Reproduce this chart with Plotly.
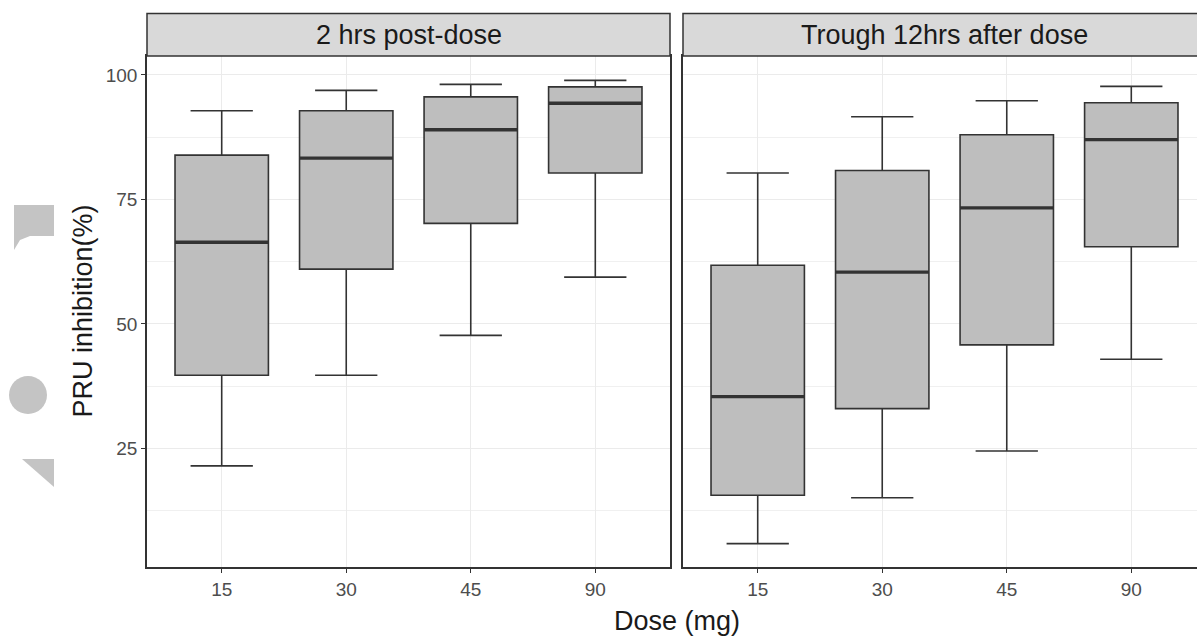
import plotly.graph_objects as go

W, H = 1197, 637

# ---- data ----
doses = ["15", "30", "45", "90"]
panels = ["2 hrs post-dose", "Trough 12hrs after dose"]

post_lower = [21.5, 39.7, 47.7, 59.4]
post_q1 = [39.7, 61.0, 70.2, 80.3]
post_median = [66.4, 83.3, 89.0, 94.3]
post_q3 = [83.9, 92.8, 95.6, 97.6]
post_upper = [92.8, 96.9, 98.1, 98.9]

trough_lower = [5.9, 15.1, 24.5, 42.9]
trough_q1 = [15.6, 33.0, 45.8, 65.5]
trough_median = [35.4, 60.4, 73.3, 87.0]
trough_q3 = [61.8, 80.8, 88.0, 94.4]
trough_upper = [80.3, 91.6, 94.8, 97.7]

y_ticks = [25, 50, 75, 100]

# ---- layout geometry (pixels) ----
def px_x(x):
    return x / W

def px_y(y):
    return 1 - y / H

L0, L1 = 147, 670
R0, R1full = 683, 1206
top, bottom = 56, 567
strip_top = 13.5
unit_px = (L1 - L0) / 4.2
right_range_end = 0.4 + (W - R0) / unit_px

BOX_FILL = "#BEBEBE"
DARK = "#333333"
GRID = "#EBEBEB"
FONT = "Liberation Sans, Arial, sans-serif"

fig = go.Figure()

series = [
    (post_lower, post_q1, post_median, post_q3, post_upper, "x", "y"),
    (trough_lower, trough_q1, trough_median, trough_q3, trough_upper, "x2", "y2"),
]
xs = list(range(1, len(doses) + 1))
for lo, q1, med, q3, up, xa, ya in series:
    fig.add_trace(go.Box(
        x=xs, q1=q1, median=med, q3=q3, lowerfence=lo, upperfence=up,
        width=0.75, whiskerwidth=0.667, boxpoints=False,
        fillcolor=BOX_FILL, line=dict(color=DARK, width=1.6),
        xaxis=xa, yaxis=ya, hoverinfo="skip", showlegend=False,
    ))
    mx, my = [], []
    for xi, m in zip(xs, med):
        mx += [xi - 0.375, xi + 0.375, None]
        my += [m, m, None]
    fig.add_trace(go.Scatter(
        x=mx, y=my, mode="lines", line=dict(color=DARK, width=3.4),
        xaxis=xa, yaxis=ya, hoverinfo="skip", showlegend=False,
    ))

tickfont = dict(family=FONT, size=19, color="#4D4D4D")
xcommon = dict(
    tickmode="array", tickvals=xs, ticktext=doses, tickfont=tickfont,
    ticks="outside", ticklen=4, tickcolor=DARK, tickwidth=1.1,
    showgrid=True, gridcolor=GRID, gridwidth=1.1, zeroline=False,
    showline=True, linecolor=DARK, linewidth=1.5, mirror=True,
    fixedrange=True,
)
ycommon = dict(
    range=[1.2, 103.8], tickmode="array", tickvals=y_ticks,
    showgrid=True, gridcolor=GRID, gridwidth=1.1, zeroline=False,
    minor=dict(tickmode="array", tickvals=[12.5, 37.5, 62.5, 87.5],
               showgrid=True, gridcolor="#F0F0F0", gridwidth=0.6, ticks=""),
    showline=True, linecolor=DARK, linewidth=1.5,
    domain=[px_y(bottom), px_y(top)], fixedrange=True,
)

fig.update_layout(
    width=W, height=H, margin=dict(l=0, r=0, t=0, b=0),
    paper_bgcolor="white", plot_bgcolor="white",
    xaxis=dict(xcommon, domain=[px_x(L0), px_x(L1)], range=[0.4, 4.6], anchor="y"),
    xaxis2=dict(xcommon, domain=[px_x(R0), 1.0], range=[0.4, right_range_end], anchor="y2"),
    yaxis=dict(ycommon, anchor="x", mirror=True, ticks="outside", ticklen=4,
               tickcolor=DARK, tickwidth=1.1, tickfont=tickfont),
    yaxis2=dict(ycommon, anchor="x2", matches="y", showticklabels=False, ticks="",
                mirror=False),
    font=dict(family=FONT),
)

# strips
shapes = [
    dict(type="rect", xref="paper", yref="paper",
         x0=px_x(L0), x1=px_x(L1), y0=px_y(top), y1=px_y(strip_top),
         fillcolor="#D9D9D9", line=dict(color=DARK, width=1.5), layer="above"),
    dict(type="rect", xref="paper", yref="paper",
         x0=px_x(R0), x1=px_x(R1full), y0=px_y(top), y1=px_y(strip_top),
         fillcolor="#D9D9D9", line=dict(color=DARK, width=1.5), layer="above"),
]

# faint watermark fragments at the left edge of the reference image
WM = "#C4C4C4"
def path(pts):
    s = "M " + " L ".join(f"{px_x(a)},{px_y(b)}" for a, b in pts) + " Z"
    return s
shapes.append(dict(type="path", xref="paper", yref="paper",
                   path=path([(14, 205), (54, 205), (54, 236), (30, 236), (20, 240), (14, 250)]),
                   fillcolor=WM, line=dict(width=0)))
shapes.append(dict(type="circle", xref="paper", yref="paper",
                   x0=px_x(9), x1=px_x(47), y0=px_y(414), y1=px_y(376),
                   fillcolor=WM, line=dict(width=0)))
shapes.append(dict(type="path", xref="paper", yref="paper",
                   path=path([(22, 459), (54, 459), (54, 487)]),
                   fillcolor=WM, line=dict(width=0)))
fig.update_layout(shapes=shapes)

annotations = [
    dict(text=panels[0], x=px_x((L0 + L1) / 2), y=px_y((strip_top + top) / 2),
         xref="paper", yref="paper", showarrow=False,
         font=dict(family=FONT, size=27, color="#1A1A1A"), xanchor="center", yanchor="middle"),
    dict(text=panels[1], x=px_x((R0 + R1full) / 2), y=px_y((strip_top + top) / 2),
         xref="paper", yref="paper", showarrow=False,
         font=dict(family=FONT, size=27, color="#1A1A1A"), xanchor="center", yanchor="middle"),
    dict(text="Dose (mg)", x=px_x((L0 + R1full) / 2), y=px_y(621),
         xref="paper", yref="paper", showarrow=False,
         font=dict(family=FONT, size=27, color="#1A1A1A"), xanchor="center", yanchor="middle"),
    dict(text="PRU inhibition(%)", x=px_x(82), y=px_y((top + bottom) / 2),
         xref="paper", yref="paper", showarrow=False, textangle=-90,
         font=dict(family=FONT, size=27, color="#1A1A1A"), xanchor="center", yanchor="middle"),
]
fig.update_layout(annotations=annotations)

fig.write_html("out.html")
